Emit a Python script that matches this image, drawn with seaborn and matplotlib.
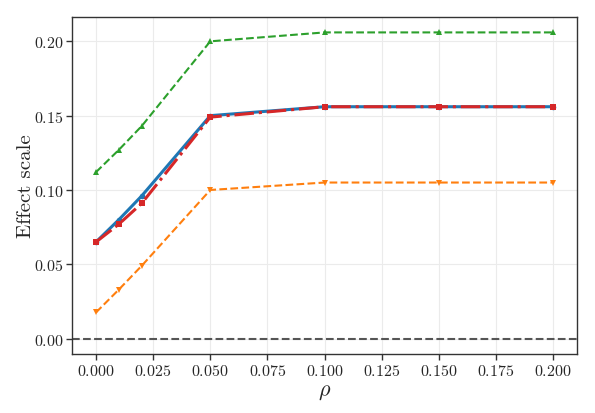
import matplotlib
matplotlib.use("Agg")
import matplotlib.pyplot as plt
import seaborn as sns
import pandas as pd

# rho values on the x axis
rho = [0.0, 0.01, 0.02, 0.05, 0.10, 0.15, 0.20]

# effect scale per series
blue_vals = [0.065, 0.080, 0.096, 0.150, 0.156, 0.156, 0.156]
red_vals = [0.065, 0.077, 0.091, 0.149, 0.156, 0.156, 0.156]
green_vals = [0.112, 0.127, 0.143, 0.200, 0.206, 0.206, 0.206]
orange_vals = [0.0176, 0.033, 0.049, 0.100, 0.105, 0.105, 0.105]

sns.set_theme(style="whitegrid")
plt.rcParams["font.family"] = ["cmr10", "DejaVu Serif"]
plt.rcParams["mathtext.fontset"] = "cm"
plt.rcParams["axes.formatter.use_mathtext"] = True
plt.rcParams["axes.unicode_minus"] = False

fig, ax = plt.subplots(figsize=(5.95, 4.14), dpi=100)

ax.axhline(0, color="#555555", linestyle="--", linewidth=1.5, zorder=1)

series = [
    (green_vals, "#2ca02c", "--", "^", 1.5, 4.5),
    (orange_vals, "#ff7f0e", "--", "v", 1.5, 4.5),
    (blue_vals, "#1f77b4", "-", "o", 2.2, 4),
    (red_vals, "#d62728", "-.", "s", 2.2, 4.5),
]
for vals, color, ls, mk, lw, ms in series:
    df = pd.DataFrame({"rho": rho, "val": vals})
    sns.lineplot(data=df, x="rho", y="val", ax=ax, color=color, linestyle=ls,
                 marker=mk, linewidth=lw, markersize=ms, markeredgewidth=0)

ax.set_xlim(-0.0105, 0.2105)
ax.set_ylim(-0.0105, 0.2165)
ax.set_xticks([0, 0.025, 0.05, 0.075, 0.1, 0.125, 0.15, 0.175, 0.2])
ax.set_xticklabels([f"${v:.3f}$" for v in ax.get_xticks()])
ax.set_yticks([0, 0.05, 0.1, 0.15, 0.2])
ax.set_yticklabels([f"${v:.2f}$" for v in ax.get_yticks()])
ax.tick_params(axis="both", labelsize=11.5, length=4, width=1, color="#333333",
               bottom=True, left=True, pad=2)
ax.grid(True, color="#ebebeb", linewidth=0.8)
for s in ax.spines.values():
    s.set_color("#333333")
    s.set_linewidth(1.0)

ax.set_xlabel(r"$\rho$", fontsize=16, labelpad=3)
ax.set_ylabel("Effect scale", fontsize=15, labelpad=-1)

fig.subplots_adjust(left=0.121, right=0.97, top=0.957, bottom=0.142)
fig.savefig("out.png", dpi=100)
